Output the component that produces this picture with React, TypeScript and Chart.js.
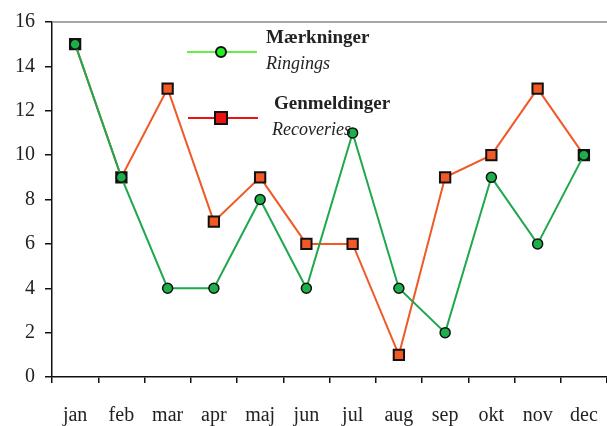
import React, { useEffect, useRef } from "react";
import { Chart, registerables } from "chart.js";

Chart.register(...registerables);

const months = ["jan", "feb", "mar", "apr", "maj", "jun", "jul", "aug", "sep", "okt", "nov", "dec"];
const ringings = [15, 9, 4, 4, 8, 4, 11, 4, 2, 9, 6, 10];
const recoveries = [15, 9, 13, 7, 9, 6, 6, 1, 9, 10, 13, 10];
const yTicks = [0, 2, 4, 6, 8, 10, 12, 14, 16];

const FONT = "'Liberation Serif', 'DejaVu Serif', serif";

const decorPlugin = {
  id: "decor",
  afterDraw(chart: any) {
    const { ctx, chartArea } = chart;
    ctx.save();
    // top gray line
    ctx.strokeStyle = "#888888";
    ctx.lineWidth = 1.5;
    ctx.beginPath();
    ctx.moveTo(chartArea.left, chartArea.top);
    ctx.lineTo(chart.width, chartArea.top);
    ctx.stroke();

    // legend entry 1
    ctx.strokeStyle = "#66ee44";
    ctx.lineWidth = 2;
    ctx.beginPath();
    ctx.moveTo(187, 52);
    ctx.lineTo(257, 52);
    ctx.stroke();
    ctx.fillStyle = "#22ee22";
    ctx.strokeStyle = "#111111";
    ctx.lineWidth = 2;
    ctx.beginPath();
    ctx.arc(221, 52, 5, 0, Math.PI * 2);
    ctx.fill();
    ctx.stroke();

    // legend entry 2
    ctx.strokeStyle = "#ee1111";
    ctx.lineWidth = 2;
    ctx.beginPath();
    ctx.moveTo(188, 118);
    ctx.lineTo(258, 118);
    ctx.stroke();
    ctx.fillStyle = "#ee1111";
    ctx.strokeStyle = "#111111";
    ctx.fillRect(215, 112, 12, 12);
    ctx.strokeRect(215, 112, 12, 12);

    ctx.fillStyle = "#222222";
    ctx.textBaseline = "alphabetic";
    ctx.textAlign = "left";
    ctx.font = `bold 19px ${FONT}`;
    ctx.fillText("Mærkninger", 266, 43);
    ctx.fillText("Genmeldinger", 274, 109);
    ctx.font = `italic 18px ${FONT}`;
    ctx.fillText("Ringings", 266, 69);
    ctx.fillText("Recoveries", 272, 135);
    ctx.restore();
  },
};

export default function App() {
  const ref = useRef<HTMLCanvasElement | null>(null);
  useEffect(() => {
    document.body.style.margin = "0";
    const chart = new Chart(ref.current as HTMLCanvasElement, {
      type: "line",
      data: {
        labels: months,
        datasets: [
          {
            label: "Mærkninger",
            data: ringings,
            borderColor: "#1fa84e",
            backgroundColor: "#1db04a",
            borderWidth: 2,
            pointStyle: "circle",
            pointRadius: 5,
            pointBorderColor: "#111111",
            pointBorderWidth: 1.5,
            pointBackgroundColor: "#1db04a",
            tension: 0,
          },
          {
            label: "Genmeldinger",
            data: recoveries,
            borderColor: "#f05a28",
            backgroundColor: "#f15a24",
            borderWidth: 2,
            pointStyle: "rect",
            pointRadius: 7.3,
            pointBorderColor: "#111111",
            pointBorderWidth: 2,
            pointBackgroundColor: "#f15a24",
            tension: 0,
          },
        ],
      },
      options: {
        animation: false,
        responsive: false,
        layout: { autoPadding: false, padding: { top: 21, right: -2, left: 0, bottom: 0 } },
        plugins: { legend: { display: false }, tooltip: { enabled: false } },
        scales: {
          x: {
            offset: true,
            afterFit(scale: any) {
              scale.height = 49;
              scale.paddingLeft = 0;
              scale.paddingRight = 0;
            },
            grid: {
              offset: true,
              drawOnChartArea: false,
              drawTicks: true,
              tickLength: 6,
              color: "#111111",
              lineWidth: 1.5,
            },
            border: { color: "#111111", width: 1.5 },
            ticks: {
              color: "#222222",
              font: { family: FONT, size: 20 },
              padding: 21,
              maxRotation: 0,
              autoSkip: false,
            },
          },
          y: {
            min: 0,
            max: 16,
            afterFit(scale: any) {
              scale.width = 52;
            },
            afterBuildTicks(scale: any) {
              scale.ticks = yTicks.map((v) => ({ value: v }));
            },
            grid: {
              drawOnChartArea: false,
              drawTicks: true,
              tickLength: 7,
              color: "#111111",
              lineWidth: 1.5,
            },
            border: { color: "#111111", width: 1.5 },
            ticks: {
              color: "#222222",
              font: { family: FONT, size: 20 },
              padding: 10,
            },
          },
        },
      },
      plugins: [decorPlugin],
    });
    return () => chart.destroy();
  }, []);
  return (
    <div style={{ width: 607, height: 426, background: "#fff" }}>
      <canvas ref={ref} width={607} height={426} style={{ display: "block" }} />
    </div>
  );
}
